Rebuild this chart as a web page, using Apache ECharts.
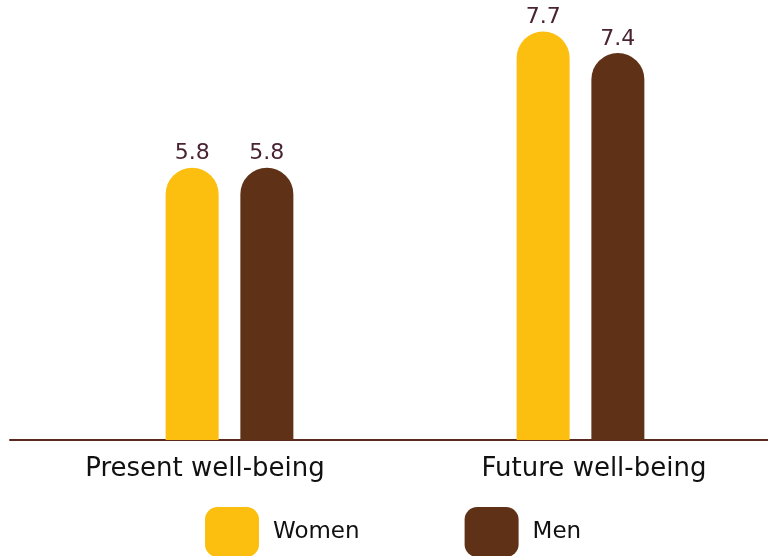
<!DOCTYPE html>
<html>
<head>
<meta charset="utf-8">
<script src="https://cdn.jsdelivr.net/npm/echarts@6/dist/echarts.min.js"></script>
<style>
    html, body { margin: 0; padding: 0; background: #fff; }
    #box1 { width: 768px; height: 556px; }
</style>
</head>
<body>
<div id="box1"></div>
<script>
const aCategories = ['Present well-being', 'Future well-being'];
const aWomen = [5.8, 7.7];
const aMen = [5.8, 7.4];

const sFont = 'DejaVu Sans';
const sLabelColor = '#4a2332';

const oCommonPart = {
    type: 'bar',
    xAxisIndex: 0,
    yAxisIndex: 0,
    barWidth: 53,
    barGap: '41%',
    label: {
        show: true,
        position: 'top',
        distance: 3,
        fontFamily: sFont,
        fontSize: 22,
        color: sLabelColor,
    },
};

const oAxisText = { fontFamily: sFont, fontSize: 26, color: '#111' };

const myChart = echarts.init(document.getElementById('box1'));
const option = {
    animation: false,
    backgroundColor: '#fff',
    grid: [
        { left: 54, right: 12, top: 10, bottom: 116 }, // 柱子
        { left: 10, right: 0, top: 10, bottom: 116 }, // 轴线和标签
    ],
    legend: {
        left: 205,
        top: 507,
        padding: 0,
        itemWidth: 54,
        itemHeight: 50,
        itemGap: 105,
        icon: 'roundRect',
        textStyle: {
            fontFamily: sFont,
            fontSize: 23,
            color: '#111',
            padding: [0, 0, 0, 9],
        },
        data: ['Women', 'Men'],
    },
    xAxis: [{
        type: 'category',
        gridIndex: 0,
        data: aCategories,
        show: false,
    }, {
        type: 'category',
        gridIndex: 1,
        data: aCategories,
        axisLine: { show: true, lineStyle: { color: '#5a2a20', width: 2 } },
        axisTick: { show: false },
        axisLabel: {
            margin: 16,
            interval: 0,
            hideOverlap: false,
            showMinLabel: true,
            showMaxLabel: true,
            ...oAxisText,
            // 标签位置略偏右
            formatter: (val, idx) => `{l${idx}|${val}}`,
            rich: {
                l0: { ...oAxisText, padding: [0, 0, 0, 11] },
                l1: { ...oAxisText, padding: [0, 0, 0, 31] },
            },
        },
    }],
    yAxis: [{
        type: 'value',
        gridIndex: 0,
        min: 2,
        max: 8,
        show: false,
    }, {
        type: 'value',
        gridIndex: 1,
        min: 2,
        max: 8,
        show: false,
    }],
    series: [{
        ...oCommonPart,
        name: 'Women',
        itemStyle: { color: '#fcbf10', borderRadius: [27, 27, 0, 0] },
        data: aWomen,
    }, {
        ...oCommonPart,
        name: 'Men',
        itemStyle: { color: '#5f3217', borderRadius: [27, 27, 0, 0] },
        data: aMen,
    }],
};
myChart.setOption(option);
</script>
</body>
</html>
